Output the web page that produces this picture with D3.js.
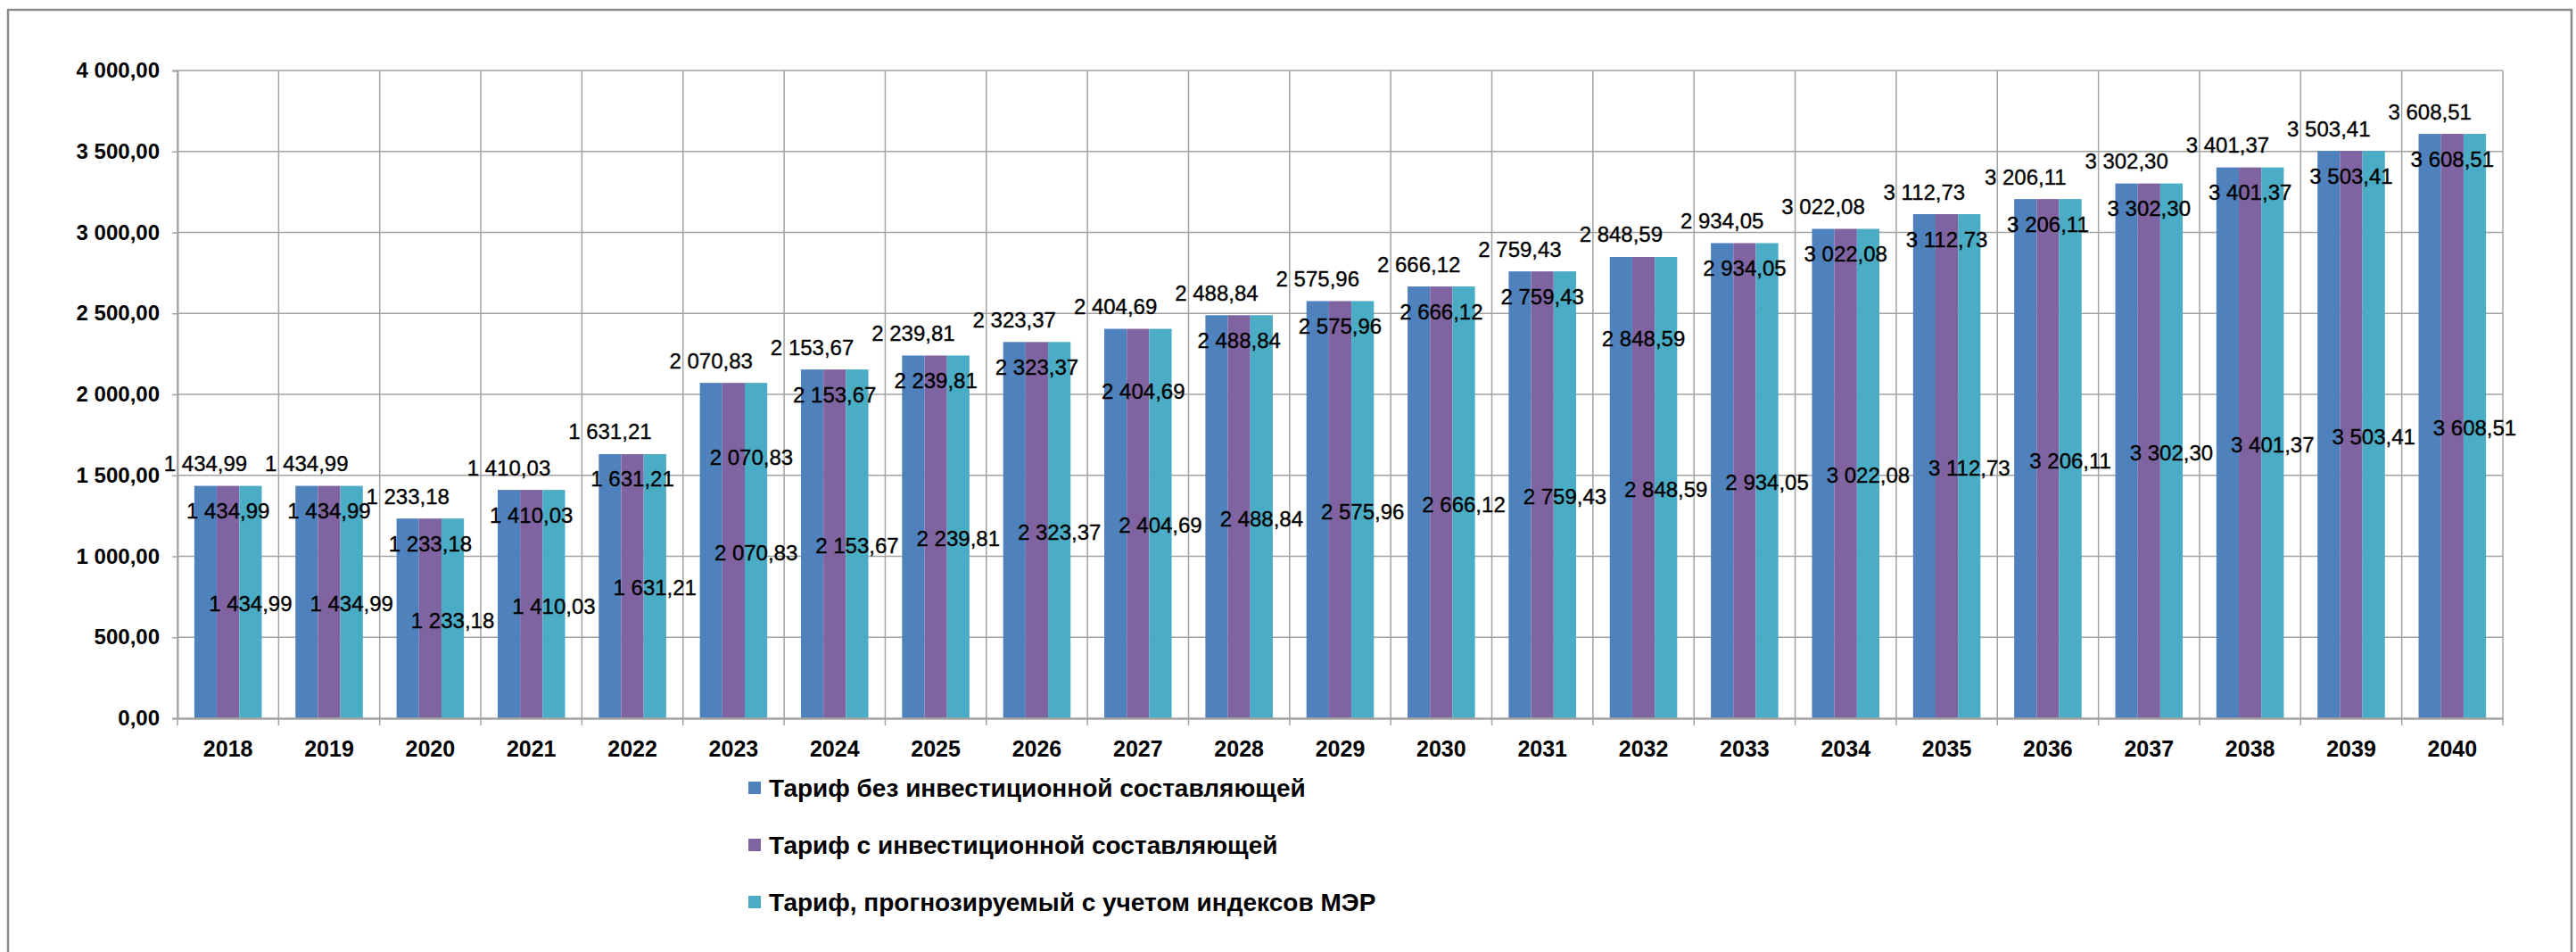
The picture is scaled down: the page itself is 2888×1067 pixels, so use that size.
<!DOCTYPE html>
<html>
<head>
<meta charset="utf-8">
<script src="https://cdn.jsdelivr.net/npm/d3@7"></script>
<style>
  html, body { margin: 0; padding: 0; background: #fff; }
  svg { display: block; }
  text { font-family: "Liberation Sans", Arial, sans-serif; fill: #000; }
</style>
</head>
<body>
<svg id="chart" width="2888" height="1067"></svg>
<script>
// ---- Data ----
const years = ["2018","2019","2020","2021","2022","2023","2024","2025","2026","2027","2028","2029","2030","2031","2032","2033","2034","2035","2036","2037","2038","2039","2040"];
const tariffNoInvest = [1434.99,1434.99,1233.18,1410.03,1631.21,2070.83,2153.67,2239.81,2323.37,2404.69,2488.84,2575.96,2666.12,2759.43,2848.59,2934.05,3022.08,3112.73,3206.11,3302.30,3401.37,3503.41,3608.51];
const tariffInvest   = [1434.99,1434.99,1233.18,1410.03,1631.21,2070.83,2153.67,2239.81,2323.37,2404.69,2488.84,2575.96,2666.12,2759.43,2848.59,2934.05,3022.08,3112.73,3206.11,3302.30,3401.37,3503.41,3608.51];
const tariffMER      = [1434.99,1434.99,1233.18,1410.03,1631.21,2070.83,2153.67,2239.81,2323.37,2404.69,2488.84,2575.96,2666.12,2759.43,2848.59,2934.05,3022.08,3112.73,3206.11,3302.30,3401.37,3503.41,3608.51];
const seriesNames = [
  "Тариф без инвестиционной составляющей",
  "Тариф с инвестиционной составляющей",
  "Тариф, прогнозируемый с учетом индексов МЭР"
];
const yTicks = [0,500,1000,1500,2000,2500,3000,3500,4000];

// manually moved labels of the 2nd series (as in the original chart): extra shift in px
const labelNudge2 = { "2023": {dx: 20, dy: 55}, "2027": {dx: 6, dy: 42}, "2032": {dx: 0, dy: 64} };

// ---- Style / layout ----
const colors = ["#4F81BD", "#8064A2", "#4BACC6"];
const gridColor = "#a3a3a3";
const W = 2888, H = 1067;
const plot = { left: 199, right: 2806, top: 79, bottom: 805 };

const svg = d3.select("#chart");
svg.append("rect").attr("x",0).attr("y",0).attr("width",W).attr("height",H).attr("fill","#fff");
// outer chart border
svg.append("rect").attr("x",9).attr("y",11).attr("width",2874).attr("height",1100)
  .attr("fill","none").attr("stroke","#8a8a8a").attr("stroke-width",2.5);

const locale = d3.formatLocale({decimal: ",", thousands: "\u00a0", grouping: [3], currency: ["",""]});
const fmt = locale.format(",.2f");

const x = d3.scaleBand().domain(years).range([plot.left, plot.right]).paddingInner(1/3).paddingOuter(1/6);
const xs = d3.scaleBand().domain([0,1,2]).range([0, x.bandwidth()]);
const y = d3.scaleLinear().domain([0, 4000]).range([plot.bottom, plot.top]);

const series = [tariffNoInvest, tariffInvest, tariffMER];

// boundaries of categories
const step = x.step();
const bounds = years.map(d => x(d) - step * x.paddingInner() / 2);
bounds.push(bounds[bounds.length-1] + step);

// horizontal gridlines
svg.append("g").selectAll("line").data(yTicks.slice(1)).join("line")
  .attr("x1", plot.left).attr("x2", plot.right)
  .attr("y1", d => y(d)).attr("y2", d => y(d))
  .attr("stroke", gridColor).attr("stroke-width", 1.5);
// vertical gridlines + ticks below axis
svg.append("g").selectAll("line").data(bounds).join("line")
  .attr("x1", d => d).attr("x2", d => d)
  .attr("y1", plot.top).attr("y2", plot.bottom + 8)
  .attr("stroke", gridColor).attr("stroke-width", 1.5);

// bars
const gBars = svg.append("g");
series.forEach((vals, si) => {
  gBars.append("g").selectAll("rect").data(vals).join("rect")
    .attr("x", (d,i) => x(years[i]) + xs(si))
    .attr("width", xs.bandwidth())
    .attr("y", d => y(d))
    .attr("height", d => y(0) - y(d))
    .attr("fill", colors[si]);
});

// axes
const yAxis = d3.axisLeft(y).tickValues(yTicks).tickFormat(fmt).tickSize(6).tickPadding(14);
const gy = svg.append("g").attr("transform", `translate(${plot.left},0)`).call(yAxis);
gy.select(".domain").attr("stroke", gridColor).attr("stroke-width", 2);
gy.selectAll(".tick line").attr("stroke", gridColor).attr("stroke-width", 1.5);
gy.selectAll(".tick text").attr("font-size", 24).attr("font-weight", "bold").attr("fill", "#000");

const xAxis = d3.axisBottom(x).tickSize(0).tickPadding(25);
const gx = svg.append("g").attr("transform", `translate(0,${plot.bottom})`).call(xAxis);
gx.select(".domain").attr("stroke", gridColor).attr("stroke-width", 2.5);
gx.selectAll(".tick text").attr("font-size", 25).attr("font-weight", "bold").attr("fill", "#000");

// data labels
const gLab = svg.append("g").attr("font-size", 24).attr("text-anchor", "middle")
  .attr("stroke", "#000").attr("stroke-width", 0.35);
// series 1: outside end, above bar
gLab.append("g").selectAll("text").data(tariffNoInvest).join("text")
  .attr("x", (d,i) => x(years[i]) + xs(0) + xs.bandwidth()/2)
  .attr("y", d => y(d) - 16.5)
  .text(d => fmt(d));
// series 2: inside end
gLab.append("g").selectAll("text").data(tariffInvest).join("text")
  .attr("x", (d,i) => x(years[i]) + xs(1) + xs.bandwidth()/2 + ((labelNudge2[years[i]]||{}).dx||0))
  .attr("y", (d,i) => y(d) + 36.5 + ((labelNudge2[years[i]]||{}).dy||0))
  .text(d => fmt(d));
// series 3: center
gLab.append("g").selectAll("text").data(tariffMER).join("text")
  .attr("x", (d,i) => x(years[i]) + xs(2) + xs.bandwidth()/2)
  .attr("y", d => (y(d) + y(0))/2 + 10.5)
  .text(d => fmt(d));

// legend
const legendY = [883, 947, 1011];
const gLeg = svg.append("g");
seriesNames.forEach((name, i) => {
  gLeg.append("rect").attr("x", 839).attr("y", legendY[i] - 7).attr("width", 14).attr("height", 14)
    .attr("fill", colors[i]);
  gLeg.append("text").attr("x", 862).attr("y", legendY[i] + 10)
    .attr("font-size", 28).attr("font-weight", "bold").text(name);
});
</script>
</body>
</html>
